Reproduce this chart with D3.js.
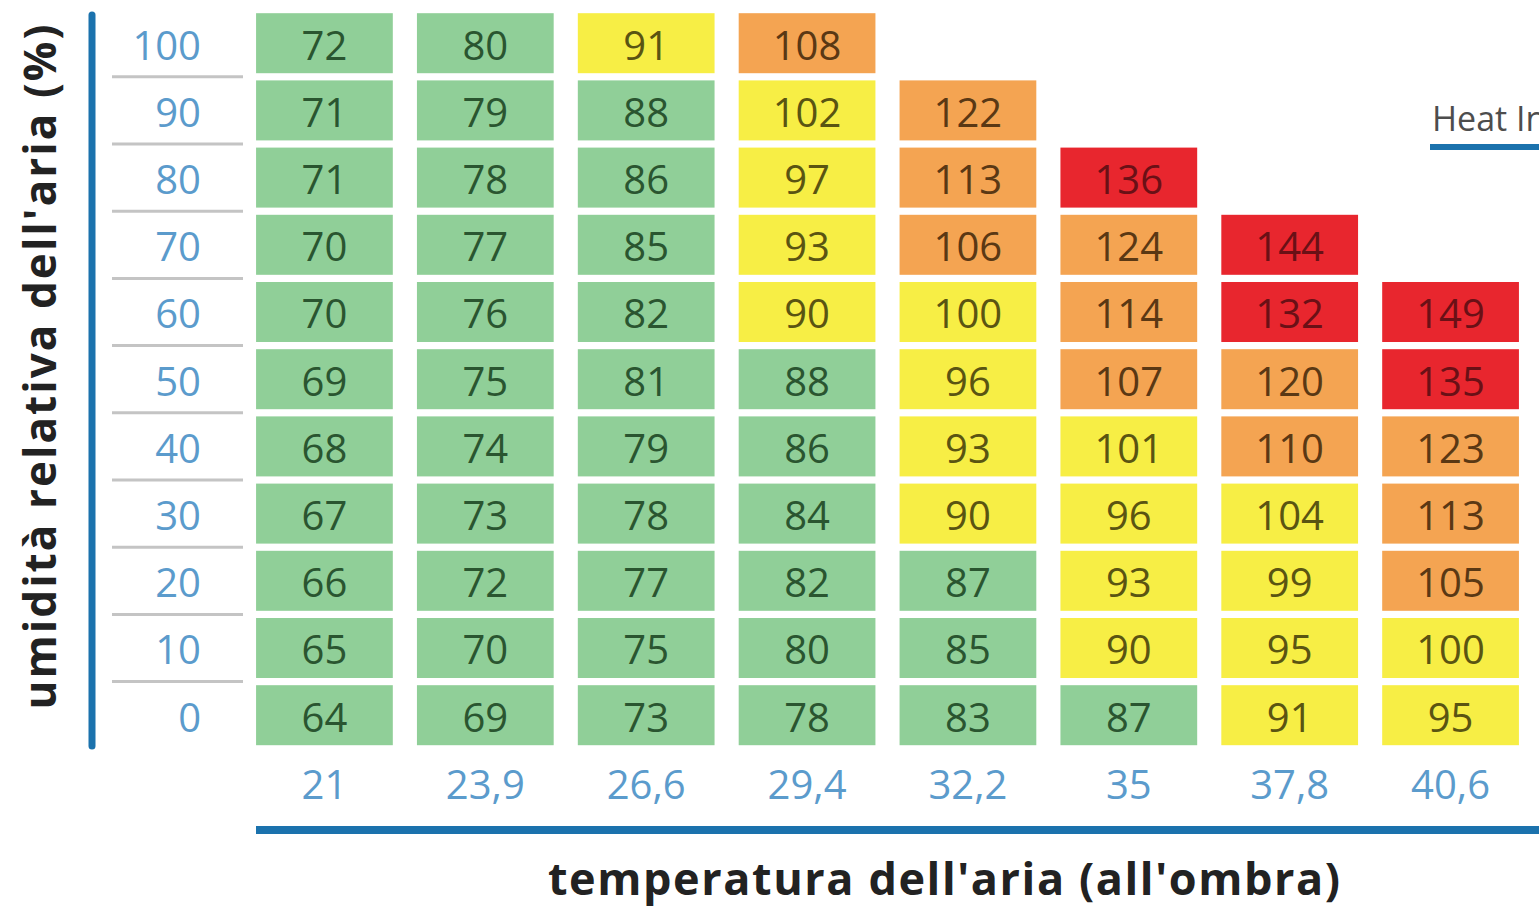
<!DOCTYPE html>
<html>
<head>
<meta charset="utf-8">
<script src="https://cdn.jsdelivr.net/npm/d3@7"></script>
<style>
  body { margin: 0; background: #fff; }
  svg { display: block; font-family: "Open Sans", sans-serif; }
</style>
</head>
<body>
<svg width="1539" height="907"></svg>
<script>
// temperatures (column labels) and humidity (row labels)
var temps = ["21", "23,9", "26,6", "29,4", "32,2", "35", "37,8", "40,6"];
var humidity = [100, 90, 80, 70, 60, 50, 40, 30, 20, 10, 0];

// heat index per temperature column, from 0% humidity upwards
var hi21   = [64, 65, 66, 67, 68, 69, 70, 70, 71, 71, 72];
var hi23_9 = [69, 70, 72, 73, 74, 75, 76, 77, 78, 79, 80];
var hi26_6 = [73, 75, 77, 78, 79, 81, 82, 85, 86, 88, 91];
var hi29_4 = [78, 80, 82, 84, 86, 88, 90, 93, 97, 102, 108];
var hi32_2 = [83, 85, 87, 90, 93, 96, 100, 106, 113, 122];
var hi35   = [87, 90, 93, 96, 101, 107, 114, 124, 136];
var hi37_8 = [91, 95, 99, 104, 110, 120, 132, 144];
var hi40_6 = [95, 100, 105, 113, 123, 135, 149];

var columns = [hi21, hi23_9, hi26_6, hi29_4, hi32_2, hi35, hi37_8, hi40_6];

var cells = [];
columns.forEach(function(col, ci) {
    col.forEach(function(v, ri) {
        cells.push({temp: temps[ci], hum: ri * 10, value: v});
    });
});

var svg = d3.select("svg");

var x = d3.scaleBand().domain(temps).range([244, 1531])
    .paddingInner(0.15).paddingOuter(0.075);
var y = d3.scaleBand().domain(humidity).range([9.6, 748.8])
    .paddingInner(0.107).paddingOuter(0.0535);

var fill = d3.scaleThreshold().domain([90, 105, 130])
    .range(["#90cf98", "#f7ee45", "#f4a452", "#e8262e"]);
var ink = d3.scaleThreshold().domain([90, 105, 130])
    .range(["#2a5530", "#5a5412", "#5a3814", "#6a1016"]);

var blue = "#1b72ad";
var tickBlue = "#5b9bcc";

// cells
var cell = svg.selectAll(".cell")
    .data(cells)
    .enter()
    .append("g")
    .attr("class", "cell")
    .attr("transform", d => "translate(" + x(d.temp) + "," + y(d.hum) + ")");

cell.append("rect")
    .attr("width", x.bandwidth())
    .attr("height", y.bandwidth())
    .attr("fill", d => fill(d.value));

cell.append("text")
    .attr("x", x.bandwidth() / 2)
    .attr("y", y.bandwidth() / 2 + 2)
    .attr("dy", "0.36em")
    .attr("text-anchor", "middle")
    .attr("font-size", 40)
    .attr("fill", d => ink(d.value))
    .text(d => d.value);

// row labels with separators
svg.selectAll(".rowlabel")
    .data(humidity)
    .enter()
    .append("text")
    .attr("x", 201)
    .attr("y", d => y(d) + y.bandwidth() / 2 + 2)
    .attr("dy", "0.36em")
    .attr("text-anchor", "end")
    .attr("font-size", 40)
    .attr("fill", tickBlue)
    .text(d => d);

svg.selectAll(".sep")
    .data(humidity.slice(1))
    .enter()
    .append("line")
    .attr("x1", 112).attr("x2", 243)
    .attr("y1", d => y(d) - y.step() * y.paddingInner() / 2)
    .attr("y2", d => y(d) - y.step() * y.paddingInner() / 2)
    .attr("stroke", "#c4c4c4")
    .attr("stroke-width", 3);

// column labels
svg.selectAll(".collabel")
    .data(temps)
    .enter()
    .append("text")
    .attr("x", d => x(d) + x.bandwidth() / 2)
    .attr("y", 785)
    .attr("dy", "0.36em")
    .attr("text-anchor", "middle")
    .attr("font-size", 40)
    .attr("fill", tickBlue)
    .text(d => d);

// axis bars
svg.append("line")
    .attr("x1", 92).attr("x2", 92)
    .attr("y1", 15).attr("y2", 746)
    .attr("stroke", blue).attr("stroke-width", 7)
    .attr("stroke-linecap", "round");

svg.append("line")
    .attr("x1", 256).attr("x2", 1539)
    .attr("y1", 830).attr("y2", 830)
    .attr("stroke", blue).attr("stroke-width", 8);

// titles
svg.append("text")
    .attr("transform", "translate(56,367) rotate(-90)")
    .attr("text-anchor", "middle")
    .attr("font-size", 44)
    .attr("font-weight", "bold")
    .attr("fill", "#222")
    .attr("textLength", 685)
    .attr("lengthAdjust", "spacing")
    .text("umidità relativa dell'aria (%)");

svg.append("text")
    .attr("x", 944)
    .attr("y", 895)
    .attr("text-anchor", "middle")
    .attr("font-size", 45)
    .attr("font-weight", "bold")
    .attr("fill", "#222")
    .attr("textLength", 792)
    .attr("lengthAdjust", "spacing")
    .text("temperatura dell'aria (all'ombra)");

// legend title, cut off at the right edge as in the source
svg.append("text")
    .attr("x", 1432)
    .attr("y", 131)
    .attr("font-size", 34)
    .attr("fill", "#4d4d4d")
    .text("Heat Index");

svg.append("line")
    .attr("x1", 1430).attr("x2", 1539)
    .attr("y1", 147).attr("y2", 147)
    .attr("stroke", blue).attr("stroke-width", 6);
</script>
</body>
</html>
